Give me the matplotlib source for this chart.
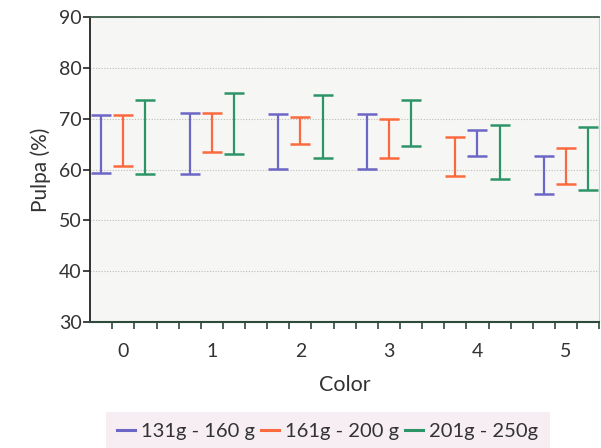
import numpy as np
import matplotlib as mpl
mpl.use('Agg')
import matplotlib.pyplot as plt
from matplotlib.lines import Line2D

plt.rcParams['font.family'] = ['Lato', 'DejaVu Sans']

categories = [0, 1, 2, 3, 4, 5]
series_names = ['131g - 160 g', '161g - 200 g', '201g - 250g']

# lower / upper ends of each range bar
low_131 = [59.4, 59.1, 60.2, 60.2, 62.6, 55.1]
high_131 = [70.7, 71.2, 70.9, 70.9, 67.8, 62.7]
low_161 = [60.8, 63.5, 65.0, 62.2, 58.8, 57.1]
high_161 = [70.7, 71.2, 70.4, 69.9, 66.4, 64.3]
low_201 = [59.2, 63.0, 62.3, 64.7, 58.1, 56.0]
high_201 = [73.7, 75.1, 74.7, 73.7, 68.7, 68.4]

# slot of each bar within a category (in category 4 the first two are swapped)
slot_131 = [-1, -1, -1, -1, 0, -1]
slot_161 = [0, 0, 0, 0, -1, 0]
slot_201 = [1, 1, 1, 1, 1, 1]

colors = ['#6c66c6', '#fb6a3e', '#2c9466']

fig = plt.figure(figsize=(6.01, 4.48), dpi=100)
ax = fig.add_axes([0.150, 0.281, 0.847, 0.681])
ax.set_facecolor('#f6f6f4')

groups = [(low_131, high_131, slot_131), (low_161, high_161, slot_161), (low_201, high_201, slot_201)]
for (lo, hi, slot), c in zip(groups, colors):
    lo = np.array(lo)
    hi = np.array(hi)
    x = np.array(categories) + 0.25 * np.array(slot)
    mid = (lo + hi) / 2
    ax.errorbar(x, mid, yerr=(hi - lo) / 2, fmt='none', ecolor=c,
                elinewidth=1.6, capsize=7, capthick=1.8, zorder=3)

ax.set_xlim(-0.375, 5.375)
ax.set_ylim(30, 90)
ax.set_yticks(np.arange(30, 91, 10))
ax.set_xticks(categories)
ax.set_xticks(np.arange(-0.125, 5.4, 0.25), minor=True)
ax.tick_params(axis='x', which='major', length=0, pad=15, labelsize=14, colors='#333333')
ax.tick_params(axis='x', which='minor', length=5, width=1.2, direction='out', color='#2e4a3c')
ax.tick_params(axis='y', length=5, width=1.2, direction='out', labelsize=14, colors='#222222', pad=1)
for lbl in ax.get_yticklabels():
    lbl.set_color('#333333')

ax.grid(axis='y', color='#bdbdb5', linestyle=(0, (1, 1.5)), linewidth=0.8, zorder=0)
ax.set_axisbelow(True)

ax.spines['left'].set_color('#222222')
ax.spines['left'].set_linewidth(1.3)
ax.spines['bottom'].set_color('#2e4a3c')
ax.spines['bottom'].set_linewidth(1.5)
ax.spines['top'].set_color('#3c5a48')
ax.spines['top'].set_linewidth(1.3)
ax.spines['right'].set_color('#d0d0cc')
ax.spines['right'].set_linewidth(0.8)

ax.set_ylabel('Pulpa (%)', fontsize=15, color='#333333', labelpad=6)
ax.set_xlabel('Color', fontsize=15.5, color='#333333', labelpad=11)

handles = [Line2D([0], [0], color=c, lw=2.2) for c in colors]
leg = fig.legend(handles, series_names, loc='center', bbox_to_anchor=(0.545, 0.037),
                 ncol=3, frameon=True, fontsize=14.5, handlelength=0.9,
                 handletextpad=0.3, columnspacing=0.3, borderpad=0.25)
leg.get_frame().set_facecolor('#f4eaf0')
leg.get_frame().set_edgecolor('none')
leg.get_frame().set_boxstyle('square')
for t in leg.get_texts():
    t.set_color('#333333')

plt.savefig('out.png', dpi=100)
plt.close()
